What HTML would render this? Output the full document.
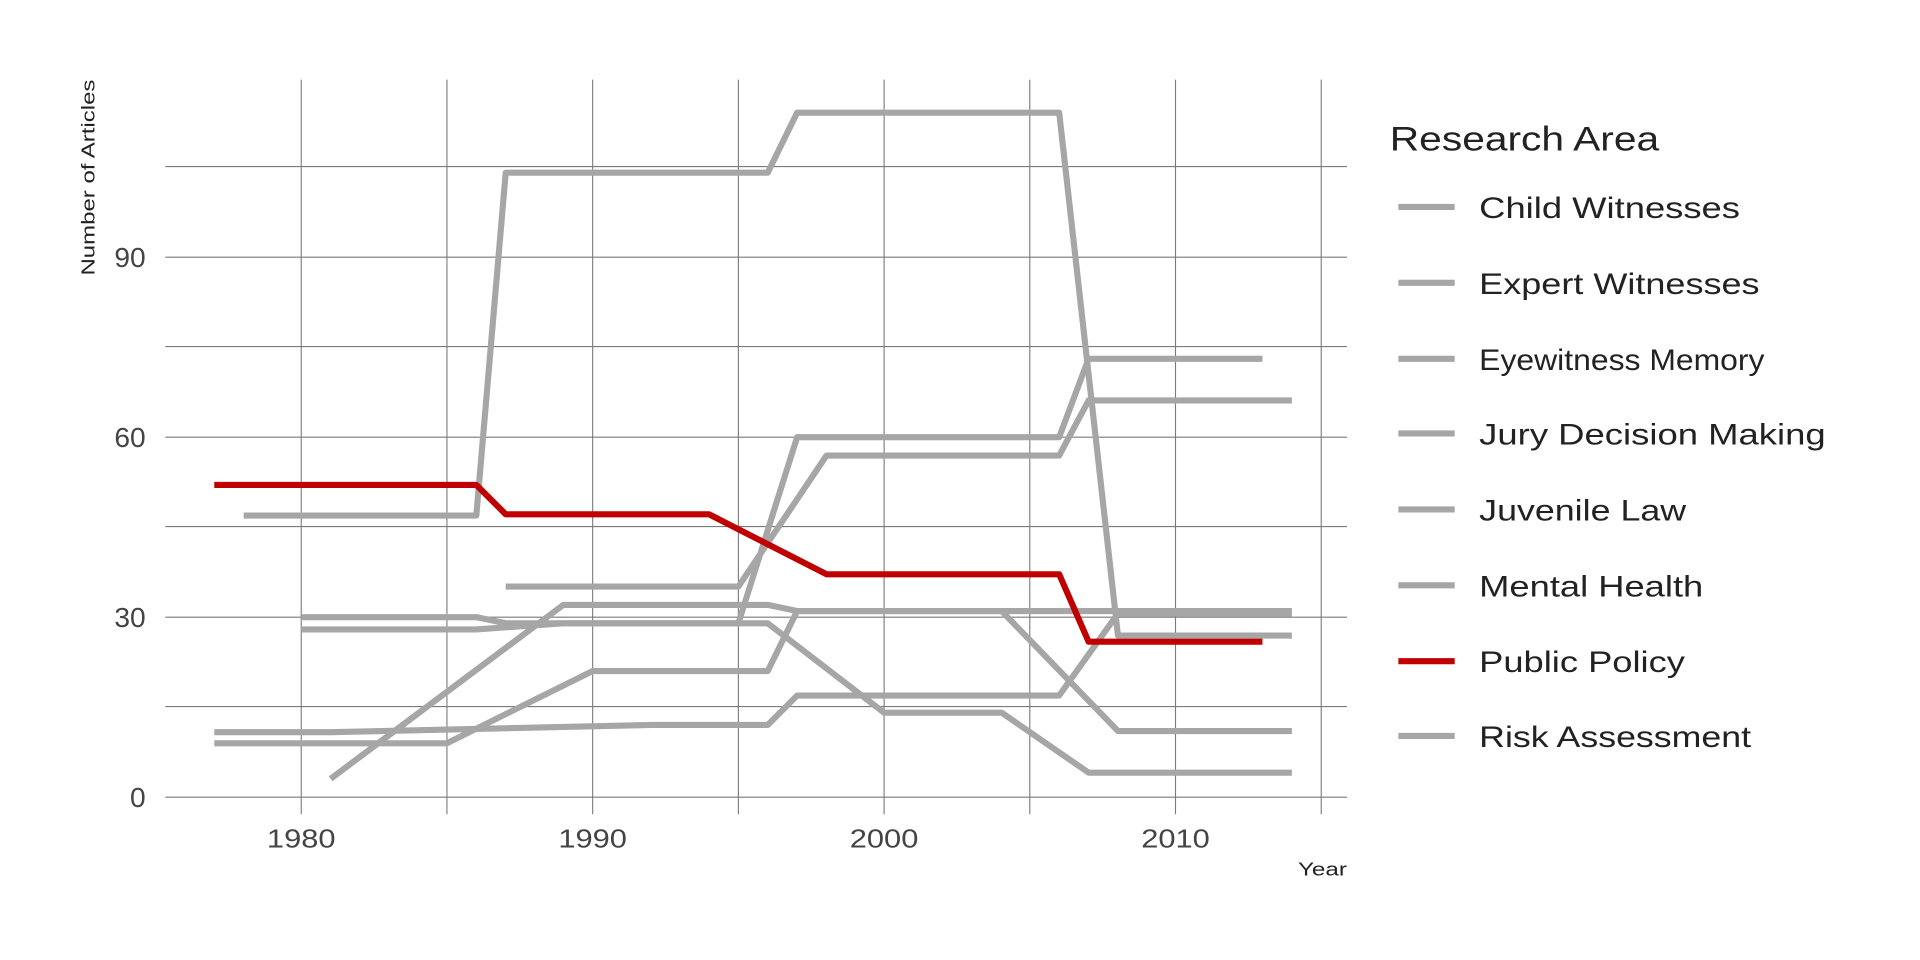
<!DOCTYPE html>
<html><head><style>
html,body{margin:0;padding:0;background:#fff;}
svg{display:block;}
text{font-family:"Liberation Sans",sans-serif;}
</style></head><body>
<svg width="1920" height="960" viewBox="0 0 1568 784" xmlns="http://www.w3.org/2000/svg">
<rect width="1568" height="784" fill="#fff"/>
<g stroke="#7a7a7a" stroke-width="0.9">
<line x1="135" x2="1100" y1="651" y2="651"/>
<line x1="135" x2="1100" y1="577" y2="577"/>
<line x1="135" x2="1100" y1="504" y2="504"/>
<line x1="135" x2="1100" y1="430" y2="430"/>
<line x1="135" x2="1100" y1="357" y2="357"/>
<line x1="135" x2="1100" y1="283" y2="283"/>
<line x1="135" x2="1100" y1="210" y2="210"/>
<line x1="135" x2="1100" y1="136" y2="136"/>
<line x1="246" x2="246" y1="65" y2="665"/>
<line x1="365" x2="365" y1="65" y2="665"/>
<line x1="484" x2="484" y1="65" y2="665"/>
<line x1="603" x2="603" y1="65" y2="665"/>
<line x1="722" x2="722" y1="65" y2="665"/>
<line x1="841" x2="841" y1="65" y2="665"/>
<line x1="960" x2="960" y1="65" y2="665"/>
<line x1="1079" x2="1079" y1="65" y2="665"/>
</g>
<g fill="#444" font-size="23" text-anchor="end">
<text x="119" y="659">0</text>
<text x="119" y="512">30</text>
<text x="119" y="365">60</text>
<text x="119" y="218">90</text>
</g>
<g fill="#444" font-size="21">
<text x="218" y="692" textLength="56" lengthAdjust="spacingAndGlyphs">1980</text>
<text x="456" y="692" textLength="56" lengthAdjust="spacingAndGlyphs">1990</text>
<text x="694" y="692" textLength="56" lengthAdjust="spacingAndGlyphs">2000</text>
<text x="932" y="692" textLength="56" lengthAdjust="spacingAndGlyphs">2010</text>
</g>
<text x="1060" y="715" font-size="15" fill="#222" textLength="40" lengthAdjust="spacingAndGlyphs">Year</text>
<text transform="translate(77,225) rotate(-90)" font-size="15" fill="#222" textLength="160" lengthAdjust="spacingAndGlyphs">Number of Articles</text>
<g fill="none" stroke="#a6a6a6" stroke-width="5" stroke-linejoin="round">
<polyline points="199,421 389,421 413,141 627,141 651,92 865,92 913,519 1055,519"/>
<polyline points="413,479 603,479 675,372 865,372 889,327 1055,327"/>
<polyline points="175,607 365,607 484,548 627,548 651,499 818,499 913,597 1055,597"/>
<polyline points="175,598 270,598 532,592 627,592 651,568 865,568 913,501 1055,501"/>
<polyline points="270,636 460,494 627,494 651,499 1055,499"/>
<polyline points="246,504 389,504 413,509 603,509 651,357 865,357 889,293 1031,293"/>
<polyline points="246,514 389,514 460,509 627,509 722,582 818,582 889,631 1055,631"/>
</g>
<polyline fill="none" stroke="#c00000" stroke-width="5" stroke-linejoin="round" points="175,396 389,396 413,420 579,420 675,469 865,469 889,524 1031,524"/>
<text x="1135" y="123" font-size="28" fill="#222" textLength="220" lengthAdjust="spacingAndGlyphs">Research Area</text>
<g stroke-width="5">
<line x1="1142" x2="1188" y1="169" y2="169" stroke="#a6a6a6"/>
<line x1="1142" x2="1188" y1="231" y2="231" stroke="#a6a6a6"/>
<line x1="1142" x2="1188" y1="293" y2="293" stroke="#a6a6a6"/>
<line x1="1142" x2="1188" y1="354" y2="354" stroke="#a6a6a6"/>
<line x1="1142" x2="1188" y1="416" y2="416" stroke="#a6a6a6"/>
<line x1="1142" x2="1188" y1="478" y2="478" stroke="#a6a6a6"/>
<line x1="1142" x2="1188" y1="540" y2="540" stroke="#c00000"/>
<line x1="1142" x2="1188" y1="601" y2="601" stroke="#a6a6a6"/>
</g>
<g font-size="24" fill="#222">
<text x="1208" y="178" textLength="213" lengthAdjust="spacingAndGlyphs">Child Witnesses</text>
<text x="1208" y="240" textLength="229" lengthAdjust="spacingAndGlyphs">Expert Witnesses</text>
<text x="1208" y="302" textLength="233" lengthAdjust="spacingAndGlyphs">Eyewitness Memory</text>
<text x="1208" y="363" textLength="283" lengthAdjust="spacingAndGlyphs">Jury Decision Making</text>
<text x="1208" y="425" textLength="169" lengthAdjust="spacingAndGlyphs">Juvenile Law</text>
<text x="1208" y="487" textLength="183" lengthAdjust="spacingAndGlyphs">Mental Health</text>
<text x="1208" y="549" textLength="168" lengthAdjust="spacingAndGlyphs">Public Policy</text>
<text x="1208" y="610" textLength="222" lengthAdjust="spacingAndGlyphs">Risk Assessment</text>
</g>
</svg>
</body></html>
